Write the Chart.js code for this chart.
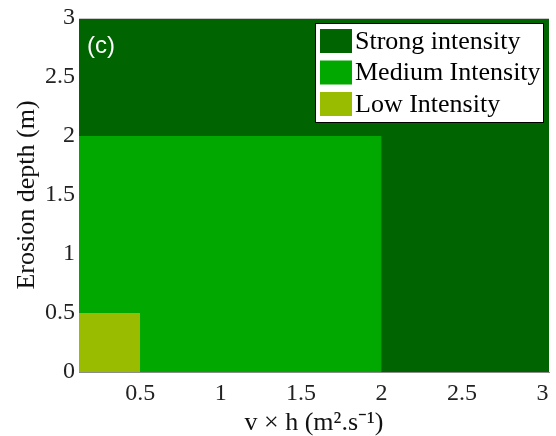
<!DOCTYPE html>
<html>
<head>
<meta charset="utf-8">
<script src="https://cdn.jsdelivr.net/npm/chart.js@4"></script>
<style>
    html, body { margin: 0; padding: 0; background: #fff; }
    #wrap { width: 556px; height: 436px; }
</style>
</head>
<body>
<div id="wrap"><canvas id="IntensityChart" width="556" height="436"></canvas></div>
<script>
// intensity classes, drawn back to front
const intensityLabels = ['Strong intensity', 'Medium Intensity', 'Low Intensity'];
const intensityColors = ['rgb(0,100,0)', 'rgb(0,168,0)', 'rgb(153,187,0)'];
const vhUpper = [3.04, 2, 0.5];      // upper limit of v x h for each class
const depthUpper = [3, 2, 0.5];      // upper limit of erosion depth (m)
const vhRange = [0.12, 3.04];
const depthRange = [0, 3];
const xTickValues = [0.5, 1, 1.5, 2, 2.5, 3];
const yTickValues = [0, 0.5, 1, 1.5, 2, 2.5, 3];

const ctx = document.getElementById('IntensityChart');

const datasets = intensityLabels.map(function (label, i) {
    return {
        label: label,
        data: [{x: vhRange[0], y: depthUpper[i]}, {x: vhUpper[i], y: depthUpper[i]}],
        showLine: true,
        fill: 'origin',
        backgroundColor: intensityColors[i],
        borderColor: intensityColors[i],
        borderWidth: 0,
        pointRadius: 0,
        tension: 0,
        order: intensityLabels.length - i
    };
});

// legend box and panel letter inside the plot
const boxLegend = {
    id: 'boxLegend',
    afterDraw: function (chart) {
        const c = chart.ctx;
        const area = chart.chartArea;
        c.save();
        // light frame line on top
        c.strokeStyle = '#c8c8c8';
        c.lineWidth = 1;
        c.beginPath();
        c.moveTo(area.left, area.top + 0.5);
        c.lineTo(area.right, area.top + 0.5);
        c.stroke();

        c.fillStyle = '#fff';
        c.fillRect(315, 23, 229, 100);
        c.strokeStyle = '#000';
        c.strokeRect(315.5, 23.5, 228, 99);
        c.font = '26px "Liberation Serif", "Times New Roman", serif';
        c.textBaseline = 'middle';
        intensityLabels.forEach(function (label, i) {
            c.fillStyle = intensityColors[i];
            c.fillRect(320, 29 + i * 31.5, 32, 24);
            c.fillStyle = '#000';
            c.fillText(label, 355, 42 + i * 31.5);
        });

        c.fillStyle = '#fff';
        c.font = '24px "Liberation Sans", Arial, sans-serif';
        c.fillText('(c)', 87, 46);
        c.restore();
    }
};

const plainTick = function (value) { return String(value); };

new Chart(ctx, {
    type: 'scatter',
    data: { datasets: datasets },
    options: {
        responsive: false,
        animation: false,
        devicePixelRatio: 1,
        layout: { padding: { top: 18, right: 7, left: 0, bottom: 0 } },
        plugins: {
            legend: { display: false },
            tooltip: { enabled: false }
        },
        scales: {
            x: {
                type: 'linear',
                min: vhRange[0],
                max: vhRange[1],
                afterBuildTicks: function (axis) {
                    axis.ticks = xTickValues.map(function (v) { return {value: v}; });
                },
                afterFit: function (axis) {
                    axis.height = 64;
                    axis.paddingLeft = 0;
                    axis.paddingRight = 0;
                },
                grid: { display: false, drawTicks: false },
                border: { display: true, color: '#8c8c8c', width: 1 },
                ticks: {
                    color: '#222',
                    padding: 7,
                    maxRotation: 0,
                    callback: plainTick,
                    font: { family: '"Liberation Serif", "Times New Roman", serif', size: 24 }
                },
                title: {
                    display: true,
                    text: 'v × h (m².s⁻¹)',
                    color: '#111',
                    padding: { top: 0, bottom: 0 },
                    font: { family: '"Liberation Serif", "Times New Roman", serif', size: 26, lineHeight: 1 }
                }
            },
            y: {
                type: 'linear',
                min: depthRange[0],
                max: depthRange[1],
                afterBuildTicks: function (axis) {
                    axis.ticks = yTickValues.map(function (v) { return {value: v}; });
                },
                afterFit: function (axis) {
                    axis.width = 79;
                    axis.paddingTop = 0;
                    axis.paddingBottom = 0;
                },
                grid: { display: false, drawTicks: false },
                border: { display: true, color: '#8c8c8c', width: 1 },
                ticks: {
                    color: '#222',
                    padding: 4,
                    callback: plainTick,
                    font: { family: '"Liberation Serif", "Times New Roman", serif', size: 24 }
                },
                title: {
                    display: true,
                    text: 'Erosion depth (m)',
                    color: '#111',
                    padding: { top: 12, bottom: 0 },
                    font: { family: '"Liberation Serif", "Times New Roman", serif', size: 26, lineHeight: 1.2 }
                }
            }
        }
    },
    plugins: [boxLegend]
});
</script>
</body>
</html>
